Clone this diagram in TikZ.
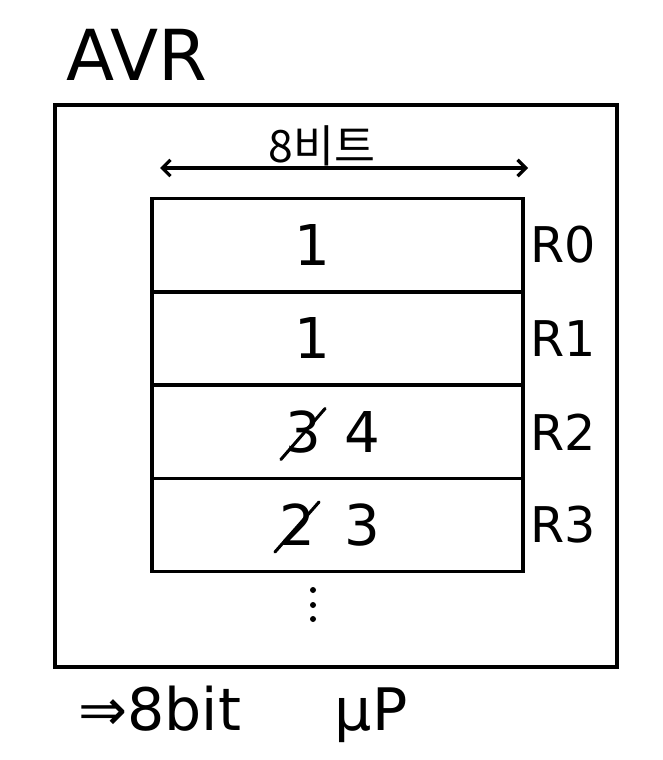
\documentclass[tikz,border=0pt]{standalone}
\usepackage{fontspec}
\setmainfont{DejaVu Sans}
\newfontfamily\kofont{Noto Sans CJK KR}
\usetikzlibrary{arrows.meta}

\tikzset{
  regbox/.style={draw,line width=3pt,minimum width=11.13cm,minimum height=2.8cm,inner sep=0pt},
  regval/.style={inner sep=0pt,font=\fontsize{48}{48}\selectfont},
  reglabel/.style={anchor=west,inner sep=0pt,font=\fontsize{42}{42}\selectfont},
  strike/.style={line width=2.6pt,line cap=round}
}

\begin{document}
\begin{tikzpicture}[x=0.03cm,y=-0.03cm]

  % page frame
  \useasboundingbox (0,0) rectangle (662,760);

  % title
  \node[inner sep=0pt,font=\fontsize{60}{60}\selectfont] (title) at (137,55) {AVR};

  % chip outline
  \draw[line width=3.6pt] (55,105) rectangle (617,667);

  % width arrow
  \coordinate (wl) at (160,168);
  \coordinate (wr) at (528,168);
  \draw[line width=2.8pt,{Straight Barb[length=7pt,width=14pt]}-{Straight Barb[length=7pt,width=14pt]}] (wl) -- (wr);
  \node[inner sep=0pt,font=\kofont\fontsize{38}{38}\selectfont] (width) at (322,146) {8비트};

  % registers
  \foreach \i/\y in {0/245,1/338.5,2/432,3/525} {
    \node[regbox] (r\i) at (337.5,\y) {};
    \node[reglabel] (l\i) at (530,\y) {R\i};
  }

  % register contents
  \node[regval] (v0) at (312,245) {1};
  \node[regval] (v1) at (312,338) {1};
  \node[regval] (v2old) at (303,432) {3};
  \node[regval] (v2new) at (362,432) {4};
  \node[regval] (v3old) at (297,525) {2};
  \node[regval] (v3new) at (362,525) {3};
  \draw[strike] ([shift={(-4,6)}]v2old.south west) -- ([shift={(4,-2)}]v2old.north east);
  \draw[strike] ([shift={(-4,6)}]v3old.south west) -- ([shift={(4,-2)}]v3old.north east);

  % more registers below
  \foreach \y in {590,605,619}
    \fill (313,\y) circle (3);

  % note
  \node[anchor=west,inner sep=0pt,font=\fontsize{50}{50}\selectfont] (note) at (78,714) {⇒8bit\hspace{1.6em}μP};

\end{tikzpicture}
\end{document}
